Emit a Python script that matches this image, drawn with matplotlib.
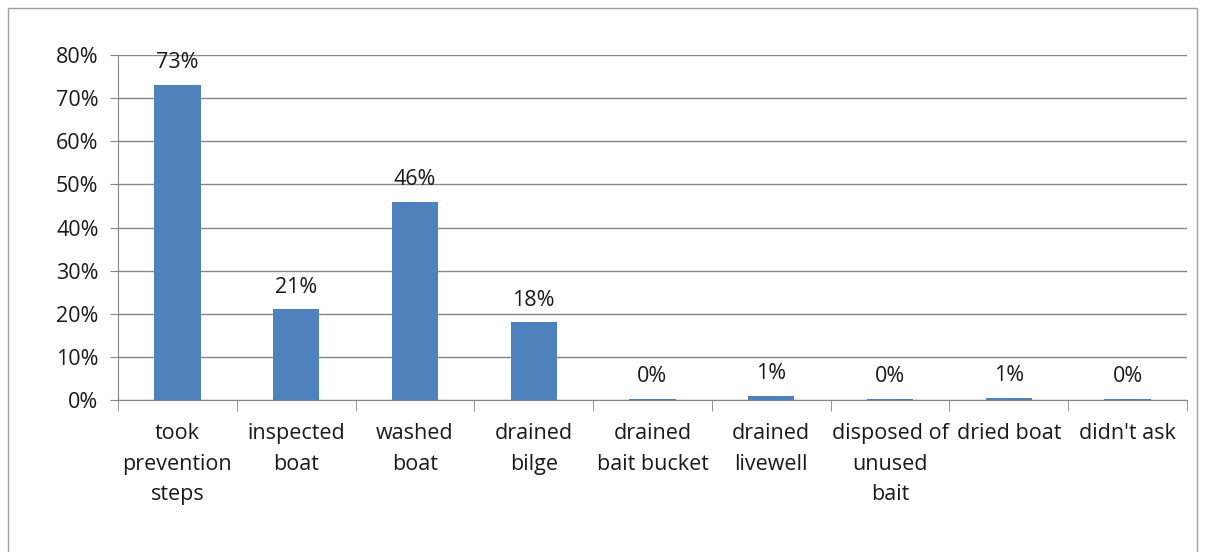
import matplotlib
matplotlib.use("Agg")
import matplotlib.pyplot as plt
from matplotlib.ticker import PercentFormatter, FixedLocator
from matplotlib.patches import Rectangle

categories = ["took\nprevention\nsteps", "inspected\nboat", "washed\nboat", "drained\nbilge",
              "drained\nbait bucket", "drained\nlivewell", "disposed of\nunused\nbait",
              "dried boat", "didn't ask"]
values = [0.73, 0.21, 0.46, 0.18, 0.003, 0.009, 0.003, 0.005, 0.003]
value_labels = ["73%", "21%", "46%", "18%", "0%", "1%", "0%", "1%", "0%"]
yticks = [0, 0.1, 0.2, 0.3, 0.4, 0.5, 0.6, 0.7, 0.8]

plt.rcParams['font.family'] = ['Open Sans', 'DejaVu Sans']
FS = 15.5
W, H = 1205, 552
fig = plt.figure(figsize=(W/100, H/100), dpi=100)
fig.patches.append(Rectangle((8/W, -0.1), (1197-8)/W, 1.1 - 8/H, transform=fig.transFigure,
                             fill=False, edgecolor="#a0a0a0", linewidth=1))
ax = fig.add_axes([118/W, 1-400/H, (1187-118)/W, (400-55)/H])

x = list(range(len(categories)))
ax.bar(x, values, width=0.39, color="#4F81BD", zorder=3)
ax.set_xlim(-0.5, len(categories)-0.5)
ax.set_ylim(0, 0.8)
ax.yaxis.set_major_locator(FixedLocator(yticks))
ax.yaxis.set_major_formatter(PercentFormatter(1.0, decimals=0))
ax.grid(axis='y', color="#868686", linewidth=1, zorder=0)
for s in ['top', 'right']:
    ax.spines[s].set_visible(False)
for s in ['left', 'bottom']:
    ax.spines[s].set_color("#868686")
ax.set_xticks(x)
ax.set_xticklabels(categories, fontsize=FS, linespacing=1.6, color="#1a1a1a")
ax.tick_params(axis='x', length=0, pad=16.5)
ax.set_xticks([i + 0.5 for i in range(-1, len(categories))], minor=True)
ax.tick_params(axis='x', which='minor', length=8, color="#868686", direction='out')
ax.tick_params(axis='y', length=6, color="#868686", labelsize=FS, labelcolor="#1a1a1a", pad=8)

for xi, v, lab in zip(x, values, value_labels):
    ax.annotate(lab, (xi, v), xytext=(0, 8.5), textcoords='offset points', ha='center',
                va='bottom', fontsize=FS, color="#1a1a1a")

fig.savefig("out.png", dpi=100)
